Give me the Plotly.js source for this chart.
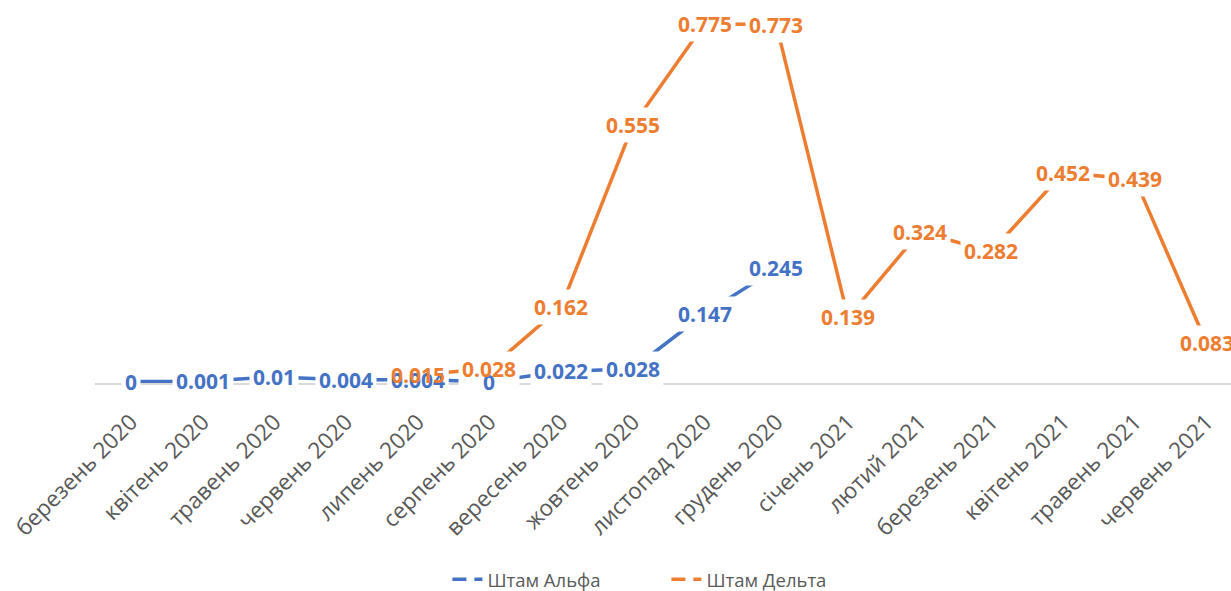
<!DOCTYPE html>
<html>
<head>
<meta charset="utf-8">
<script src="https://cdn.plot.ly/plotly-3.0.1.min.js"></script>
<style>html,body{margin:0;padding:0;background:#fff;}#chart{width:1231px;height:591px;}</style>
</head>
<body>
<div id="chart"></div>
<script>
const months = ['березень 2020','квітень 2020','травень 2020','червень 2020','липень 2020','серпень 2020','вересень 2020','жовтень 2020','листопад 2020','грудень 2020','січень 2021','лютий 2021','березень 2021','квітень 2021','травень 2021','червень 2021'];
const alpha = [0, 0.001, 0.01, 0.004, 0.004, 0, 0.022, 0.028, 0.147, 0.245, null, null, null, null, null, null];
const delta = [null, null, null, null, 0.015, 0.028, 0.162, 0.555, 0.775, 0.773, 0.139, 0.324, 0.282, 0.452, 0.439, 0.083];
const seriesNames = ['Штам Альфа', 'Штам Дельта'];
const colors = ['#4472C4', '#ED7D31'];

const FONT = '"Open Sans", "Noto Sans", sans-serif';
const series = [alpha, delta];

const traces = [];
series.forEach((vals, i) => {
  traces.push({
    type: 'scatter', mode: 'lines', x: months, y: vals, name: seriesNames[i],
    line: {color: colors[i], width: 3.5}, connectgaps: false, showlegend: false, hoverinfo: 'skip'
  });
});
// legend entries with dashed symbol
series.forEach((vals, i) => {
  traces.push({
    type: 'scatter', mode: 'lines', x: [months[0]], y: [null], name: seriesNames[i],
    line: {color: colors[i], width: 3.5, dash: '14px,8px'}, showlegend: true, hoverinfo: 'skip'
  });
});

// label masks (white boxes that break the lines) then the label texts
const masks = [], labels = [];
series.forEach((vals, i) => {
  vals.forEach((v, k) => {
    if (v === null) return;
    const common = {x: months[k], y: v, xref: 'x', yref: 'y', showarrow: false,
      xanchor: 'center', yanchor: 'middle', text: String(v)};
    masks.push(Object.assign({}, common, {bgcolor: '#ffffff', borderpad: 3,
      font: {family: FONT, size: 21, color: '#ffffff', weight: 'bold'}}));
    labels.push(Object.assign({}, common, {borderpad: 3,
      font: {family: FONT, size: 21, color: colors[i], weight: 'bold'}}));
  });
});

const layout = {
  width: 1231, height: 591,
  margin: {l: 95, r: 0, t: 3, b: 208, autoexpand: false},
  paper_bgcolor: '#ffffff', plot_bgcolor: '#ffffff',
  font: {family: FONT, color: '#595959'},
  xaxis: {
    type: 'category', range: [-0.5, 15.34], tickangle: -45, automargin: false,
    showline: true, linecolor: '#D9D9D9', linewidth: 2,
    showgrid: false, zeroline: false, ticks: '', ticklabelstandoff: 15,
    tickfont: {family: FONT, size: 22.5, color: '#595959'}, fixedrange: true
  },
  yaxis: {
    range: [-0.003, 0.82], showgrid: false, zeroline: false, showline: false,
    showticklabels: false, ticks: '', fixedrange: true, automargin: false
  },
  showlegend: true,
  legend: {
    orientation: 'h', x: 0.503, xanchor: 'center', y: -0.518, yanchor: 'middle',
    font: {family: FONT, size: 18.5, color: '#595959'}, entrywidth: 174, traceorder: 'normal'
  },
  annotations: masks.concat(labels)
};

Plotly.newPlot('chart', traces, layout, {displayModeBar: false, staticPlot: true});
</script>
</body>
</html>
